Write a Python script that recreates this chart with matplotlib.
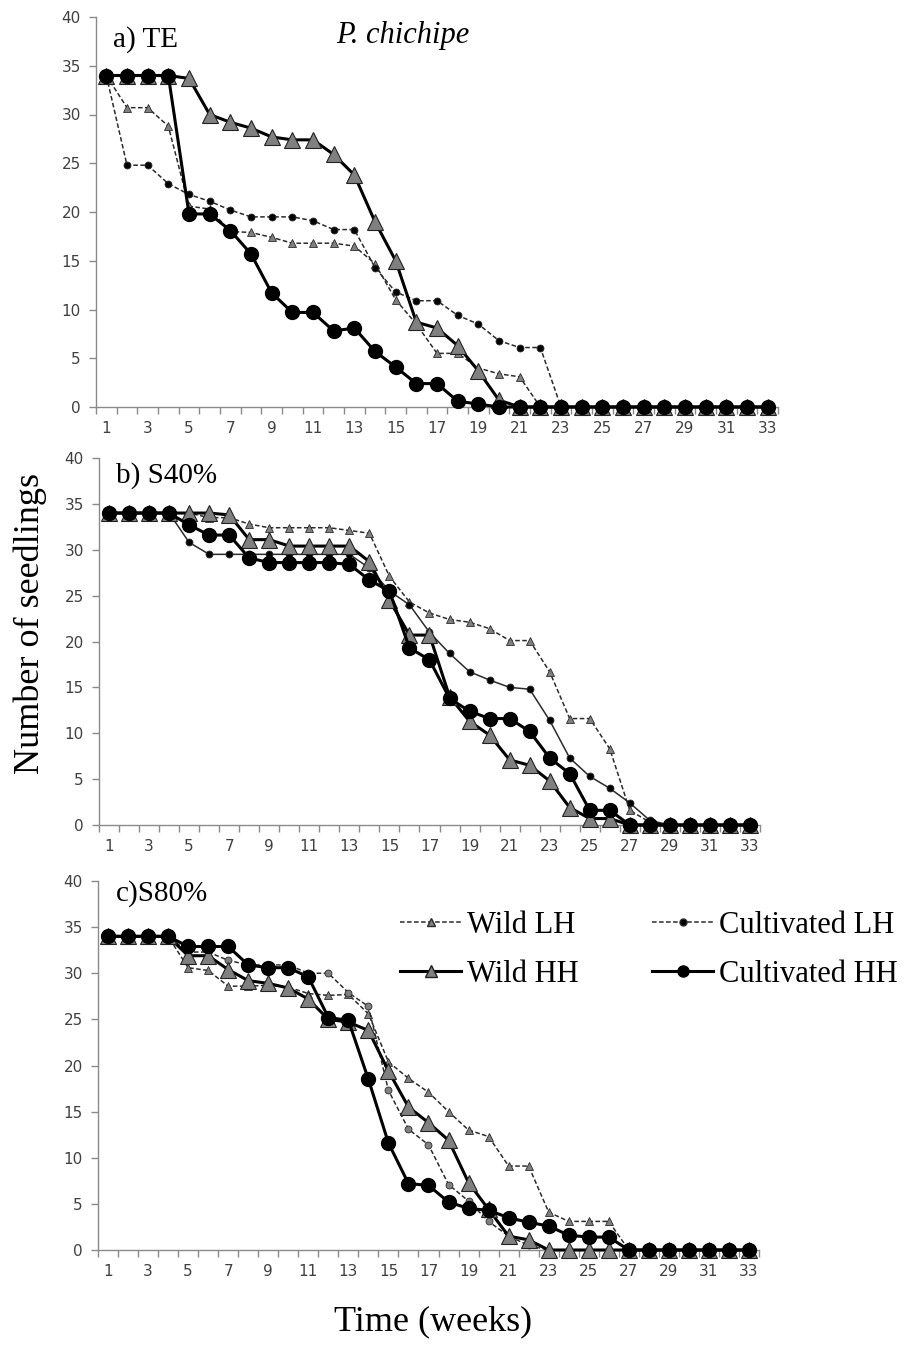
import matplotlib.pyplot as plt
import numpy as np
from matplotlib.lines import Line2D

W, H = 910, 1346
WEEKS = np.arange(1, 34)
PAD = [0.0] * 33

# panel a) TE
a_wild_lh = [34, 30.7, 30.7, 28.8, 20.6, 20.3, 18.0, 17.9, 17.4, 16.8, 16.8, 16.8, 16.5, 14.7,
             11.0, 8.5, 5.5, 5.5, 4.0, 3.4, 3.1, 0]
a_cult_lh = [34, 24.8, 24.8, 22.9, 21.8, 21.1, 20.2, 19.5, 19.5, 19.5, 19.1, 18.2, 18.2, 14.3,
             11.8, 10.9, 10.9, 9.4, 8.5, 6.8, 6.1, 6.1, 0]
a_wild_hh = [34, 34, 34, 34, 33.7, 30.0, 29.2, 28.6, 27.7, 27.4, 27.4, 25.9, 23.8, 19.0,
             15.0, 8.7, 8.1, 6.3, 3.7, 0.7, 0]
a_cult_hh = [34, 34, 34, 34, 19.8, 19.8, 18.1, 15.7, 11.7, 9.7, 9.7, 7.8, 8.1, 5.7,
             4.1, 2.4, 2.4, 0.6, 0.3, 0]

# panel b) S40%
b_wild_lh = [34, 34, 34, 34, 34, 33.5, 33.5, 32.8, 32.4, 32.4, 32.4, 32.4, 32.1, 31.8,
             27.1, 24.3, 23.1, 22.4, 22.1, 21.4, 20.1, 20.1, 16.7, 11.6, 11.6, 8.3, 1.6, 0.3, 0]
b_cult_lh = [34, 34, 34, 34, 30.8, 29.5, 29.5, 29.5, 29.5, 29.5, 29.5, 29.5, 29.5, 28.0,
             25.5, 24.0, 21.0, 18.7, 16.7, 15.8, 15.0, 14.8, 11.4, 7.3, 5.3, 4.0, 2.4, 0.5, 0]
b_wild_hh = [34, 34, 34, 34, 34, 34, 33.8, 31.1, 31.1, 30.4, 30.4, 30.4, 30.4, 28.7,
             24.5, 20.7, 20.7, 14.0, 11.3, 9.8, 7.1, 6.5, 4.8, 1.9, 0.7, 0.7, 0]
b_cult_hh = [34, 34, 34, 34, 32.7, 31.6, 31.6, 29.1, 28.6, 28.6, 28.6, 28.6, 28.4, 26.7,
             25.5, 19.3, 18.0, 13.8, 12.4, 11.6, 11.6, 10.2, 7.3, 5.6, 1.6, 1.6, 0]

# panel c) S80%
c_wild_lh = [34, 34, 34, 34, 30.6, 30.3, 28.6, 28.6, 28.7, 28.5, 27.8, 27.6, 27.7, 25.6,
             20.4, 18.6, 17.1, 15.0, 13.0, 12.3, 9.1, 9.1, 4.1, 3.1, 3.1, 3.1, 0]
c_cult_lh = [34, 34, 34, 34, 32.3, 32.3, 31.4, 30.9, 30.9, 30.9, 30.0, 30.0, 27.9, 26.4,
             17.3, 13.1, 11.4, 7.1, 5.3, 3.1, 1.5, 0.5, 0]
c_wild_hh = [34, 34, 34, 34, 31.9, 31.9, 30.4, 29.2, 28.9, 28.4, 27.2, 25.0, 24.7, 23.8,
             19.4, 15.5, 13.8, 11.9, 7.3, 4.4, 1.5, 1.1, 0]
c_cult_hh = [34, 34, 34, 34, 32.9, 32.9, 32.9, 30.9, 30.6, 30.6, 29.6, 25.2, 24.9, 18.5,
             11.6, 7.2, 7.0, 5.2, 4.5, 4.3, 3.5, 3.0, 2.6, 1.6, 1.4, 1.4, 0]


def full(values):
    return np.array(values + PAD[len(values):])


SERIF = ["Liberation Serif", "DejaVu Serif"]
GRAY = "#808080"
DARK = "#2b2b2b"


def fig_xy(x, y):
    return x / W, 1 - y / H


def make_axes(fig, left, top, right, bottom):
    ax = fig.add_axes([left / W, 1 - bottom / H, (right - left) / W, (bottom - top) / H])
    ax.set_xlim(0.5, 33.5)
    ax.set_ylim(0, 40)
    ax.set_yticks(np.arange(0, 41, 5))
    ax.set_xticks(np.arange(0.5, 34, 1))
    ax.set_xticklabels([])
    ax.set_xticks(np.arange(1, 34, 2), minor=True)
    ax.set_xticklabels([str(w) for w in range(1, 34, 2)], minor=True)
    for side in ("top", "right"):
        ax.spines[side].set_visible(False)
    for side in ("left", "bottom"):
        ax.spines[side].set_color("#8a8a8a")
        ax.spines[side].set_linewidth(1.0)
    ax.tick_params(axis="both", which="major", direction="out", length=5, width=1.0,
                   color="#8a8a8a", labelsize=11, labelcolor="#404040", pad=6)
    ax.tick_params(axis="x", which="minor", length=0, labelsize=11, labelcolor="#404040", pad=10)
    for lab in ax.get_yticklabels() + ax.get_xticklabels(minor=True):
        lab.set_family("DejaVu Sans")
    return ax


def draw_panel(ax, wild_lh, cult_lh, wild_hh, cult_hh, cult_lh_solid=False, cult_lh_gray=False):
    ax.plot(WEEKS, full(wild_lh), color=DARK, lw=1.1, dashes=(3, 1.6), marker="^", ms=5.5,
            mfc=GRAY, mec=DARK, mew=0.6, clip_on=False, zorder=3)
    ax.plot(WEEKS, full(cult_lh), color=DARK, lw=1.1, ls="-" if cult_lh_solid else (0, (3, 1.6)),
            marker="o", ms=5, mfc=GRAY if cult_lh_gray else "black", mec=DARK, mew=0.6,
            clip_on=False, zorder=4)
    ax.plot(WEEKS, full(wild_hh), color="black", lw=2.2, marker="^", ms=11,
            mfc=GRAY, mec="#222222", mew=0.8, clip_on=False, zorder=5)
    ax.plot(WEEKS, full(cult_hh), color="black", lw=2.2, marker="o", ms=10,
            mfc="black", mec="black", clip_on=False, zorder=6)


fig = plt.figure(figsize=(W / 100, H / 100), dpi=100)

ax_a = make_axes(fig, 96, 17, 778, 407)
draw_panel(ax_a, a_wild_lh, a_cult_lh, a_wild_hh, a_cult_hh)
ax_b = make_axes(fig, 99, 458, 760, 825)
draw_panel(ax_b, b_wild_lh, b_cult_lh, b_wild_hh, b_cult_hh, cult_lh_solid=True)
ax_c = make_axes(fig, 98, 881, 759, 1250)
draw_panel(ax_c, c_wild_lh, c_cult_lh, c_wild_hh, c_cult_hh, cult_lh_gray=True)

fig.text(*fig_xy(113, 40), "a) TE", family=SERIF, fontsize=21, va="center", ha="left")
fig.text(*fig_xy(403, 36), "P. chichipe", family=SERIF, style="italic", fontsize=22,
         va="center", ha="center")
fig.text(*fig_xy(116, 476), "b) S40%", family=SERIF, fontsize=21, va="center", ha="left")
fig.text(*fig_xy(116, 894), "c)S80%", family=SERIF, fontsize=21, va="center", ha="left")

fig.text(*fig_xy(30, 623), "Number of seedlings", family=SERIF, fontsize=26,
         rotation=90, va="center", ha="center")
fig.text(*fig_xy(433, 1322), "Time (weeks)", family=SERIF, fontsize=26,
         va="center", ha="center")

handles = [
    Line2D([], [], color=DARK, lw=1.1, dashes=(3, 1.6), marker="^", ms=5.5, mfc=GRAY, mec=DARK),
    Line2D([], [], color="black", lw=2.2, marker="^", ms=9, mfc=GRAY, mec="#222222"),
    Line2D([], [], color=DARK, lw=1.1, dashes=(3, 1.6), marker="o", ms=5, mfc="black", mec=DARK),
    Line2D([], [], color="black", lw=2.2, marker="o", ms=8, mfc="black", mec="black"),
]
labels = ["Wild LH", "Wild HH", "Cultivated LH", "Cultivated HH"]
fig.legend(handles, labels, ncol=2, frameon=False, loc="upper left",
           bbox_to_anchor=fig_xy(400, 911), borderpad=0, borderaxespad=0,
           handlelength=2.0, handletextpad=0.2, columnspacing=2.4, labelspacing=0.65,
           prop={"family": SERIF, "size": 22})

fig.savefig("out.png", dpi=100)
